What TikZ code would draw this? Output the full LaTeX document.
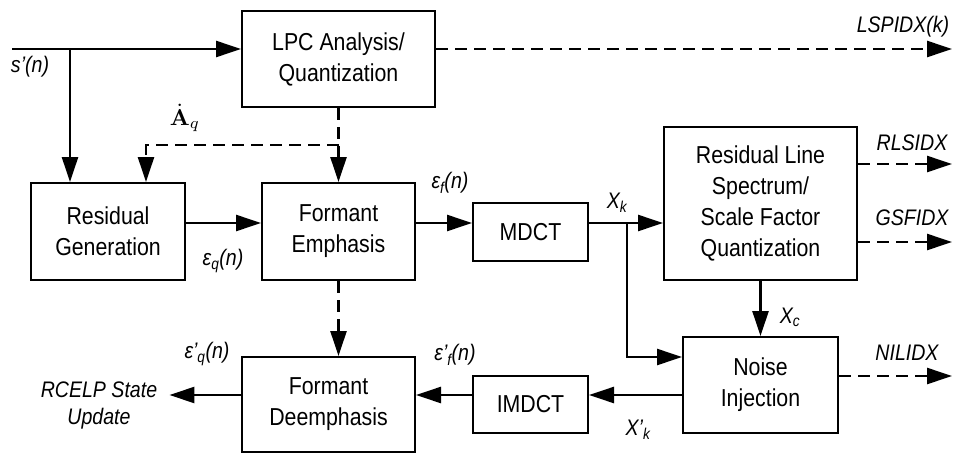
\documentclass[tikz,border=0pt]{standalone}
\usepackage[no-math]{fontspec}
\setmainfont{Liberation Sans}[FakeStretch=0.87]
\usepackage{amsmath, amssymb}
\usepackage{graphicx}
\usetikzlibrary{positioning}
\usetikzlibrary{arrows.meta}

\begin{document}
\begin{tikzpicture}[x=1pt,y=-1pt,->,line width=2.5pt]
		\tikzstyle{block}=[draw=black, line width=2pt, align=center, inner sep=0pt, font=\fontsize{24.5}{31}\selectfont]
		\tikzstyle{sig}=[font=\fontsize{22.5}{27}\selectfont\itshape, inner sep=0pt, align=center]
		\tikzstyle{idx}=[dash pattern=on 12pt off 7pt]
		\tikzset{>={Triangle[length=25pt,width=16pt]}}
		\useasboundingbox (0,0) rectangle (953,455);
		% blocks
		\node[block, minimum width=193, minimum height=96] (lpc) at (338.5,59) {LPC Analysis/\\Quantization};
		\node[block, minimum width=154, minimum height=97] (resid) at (108,231.5) {Residual\\Generation};
		\node[block, minimum width=153, minimum height=97] (emph) at (338.5,231.5) {Formant\\Emphasis};
		\node[block, minimum width=115, minimum height=58] (mdct) at (530.5,232) {MDCT};
		\node[block, minimum width=193, minimum height=153] (rls) at (760.5,203.5) {Residual Line\\Spectrum/\\Scale Factor\\Quantization};
		\node[block, minimum width=155, minimum height=96] (noise) at (760.5,385) {Noise\\Injection};
		\node[block, minimum width=115, minimum height=57] (imdct) at (530.5,404.5) {IMDCT};
		\node[block, minimum width=173, minimum height=95] (deemph) at (328.5,404.5) {Formant\\Deemphasis};
		% signal names
		\node[sig] (sn) at (30,67) {s’(n)};
		\node[inner sep=0pt] (aq) at (185,118) {\scalebox{2.3}{$\dot{\mathbf{A}}_q$}};
		\node[sig] (eq) at (223,261) {ε\textsubscript{q}(n)};
		\node[sig] (ef) at (450,183) {ε\textsubscript{f}(n)};
		\node[sig] (xk) at (617,203) {X\textsubscript{k}};
		\node[sig] (xc) at (790,317) {X\textsubscript{c}};
		\node[sig] (xpk) at (638,430) {X’\textsubscript{k}};
		\node[sig] (epf) at (455,355) {ε’\textsubscript{f}(n)};
		\node[sig] (epq) at (207,354) {ε’\textsubscript{q}(n)};
		\node[sig] (lspidx) at (903,27) {LSPIDX(k)};
		\node[sig] (rlsidx) at (912,143) {RLSIDX};
		\node[sig] (gsfidx) at (912,218) {GSFIDX};
		\node[sig] (nilidx) at (907,353) {NILIDX};
		\node[sig, inner xsep=11pt] (rcelp) at (99,405) {RCELP State\\Update};
		% free ends and branch points
		\coordinate (in) at (12,49);
		\coordinate (br) at (70,49);
		\coordinate (out) at (952,49);
		\coordinate (aqbr) at (338.5,145);
		\coordinate (aqx) at (146,145);
		\coordinate (xkbr) at (627,223);
		% connections
		\draw (in) -- (in -| lpc.west);
		\draw (br) -- (br |- resid.north);
		\draw[idx] (in -| lpc.east) -- (out);
		\path (lpc) edge[idx] (emph);
		\draw[idx] (aqbr) -- (aqx) -- (aqx |- resid.north);
		\draw ([yshift=8.5pt]resid.east) -- ([yshift=8.5pt]emph.west);
		\draw ([yshift=8.5pt]emph.east) -- ([yshift=8.5pt]emph.east -| mdct.west);
		\draw ([yshift=9pt]mdct.east) -- ([yshift=9pt]mdct.east -| rls.west);
		\draw (xkbr) |- ([yshift=28pt]noise.west);
		\draw[idx] ([yshift=39.5pt]rls.east) -- ([yshift=39.5pt]rls.east -| out);
		\draw[idx] ([yshift=-38.5pt]rls.east) -- ([yshift=-38.5pt]rls.east -| out);
		\path (rls) edge (noise);
		\draw[idx] ([yshift=9pt]noise.east) -- ([yshift=9pt]noise.east -| out);
		\draw ([yshift=-10pt]noise.west) -- ([yshift=-10pt]noise.west -| imdct.east);
		\draw ([yshift=9.5pt]imdct.west) -- ([yshift=9.5pt]imdct.west -| deemph.east);
		\draw[idx] (emph.south) -- (emph.south |- deemph.north);
		\draw ([yshift=9.5pt]deemph.west) -- ([yshift=9.5pt]deemph.west -| rcelp.east);
	\end{tikzpicture}
\end{document}
